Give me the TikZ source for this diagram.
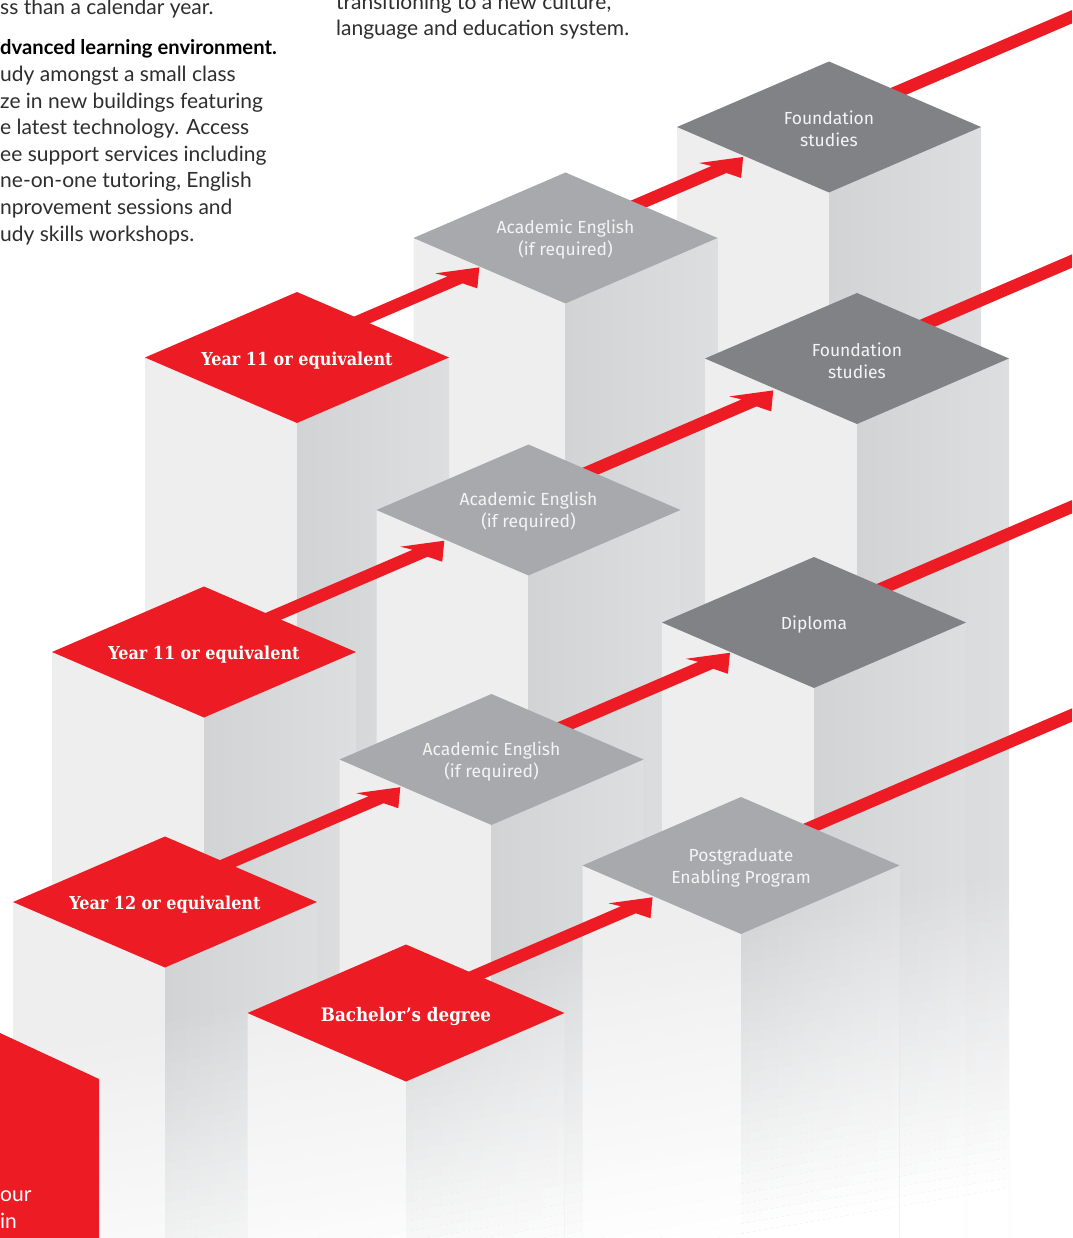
\documentclass[tikz,border=0pt]{standalone}
\usepackage{fontspec}
\setmainfont{Lato}
\newfontfamily\labfont{Fira Sans}
\newfontfamily\slabfont{DejaVu Serif Condensed}
\usetikzlibrary{calc,shapes.geometric}
\definecolor{redc}{HTML}{ED1C24}
\definecolor{dgray}{HTML}{808285}
\definecolor{lgray}{HTML}{A7A9AC}
\definecolor{leftc}{HTML}{EEEEEE}
\definecolor{rfa}{HTML}{D1D3D4}
\definecolor{rfb}{HTML}{DDDEE0}
\definecolor{labtext}{HTML}{F4F4F4}
\definecolor{bodytext}{HTML}{2E2E2E}

% pillar below a top face: left face, right face, fade to white towards the bottom
\newcommand\pillar[1]{%
  \fill[leftc] (#1.west) -- (#1.south) -- (#1.south |- 0,1240) -- (#1.west |- 0,1240) -- cycle;
  \shade[left color=rfa, right color=rfb] (#1.south) -- (#1.east) -- (#1.east |- 0,1240) -- (#1.south |- 0,1240) -- cycle;
  \begin{scope}
    \clip (#1.west) -- (#1.south) -- (#1.east) -- (#1.east |- 0,1240) -- (#1.west |- 0,1240) -- cycle;
    \foreach \i in {0,...,31}{%
      \pgfmathsetmacro\op{(\i+0.5)/32}%
      \fill[white, opacity=\op] (-10,{1043+10*\i}) -- (1100,{852+10*\i}) -- (1100,{852+10*(\i+1)}) -- (-10,{1043+10*(\i+1)}) -- cycle;}
    \fill[white] (-10,1363) -- (1100,1172) -- (1100,1400) -- (-10,1400) -- cycle;
  \end{scope}}
% top face of a block
\newcommand\topfill[2]{%
  \fill[#2] (#1.north) -- (#1.east) -- (#1.south) -- (#1.west) -- cycle;}
% isometric arrow: #1 tip coordinate, #2 shaft length (start hidden under the source face)
\newcommand\isoarrow[2]{%
  \fill[redc] ($(#1)+(-31.7,9)+({-0.9187*#2},{0.395*#2})$) -- ($(#1)+(-31.7,9)$)
    -- ($(#1)+(-44,6)$) -- (#1) -- ($(#1)+(-2,21)$) -- ($(#1)+(-16.7,16)$)
    -- ($(#1)+(-16.7,16)+({-0.9187*(#2+11)},{0.395*(#2+11)})$) -- cycle;}

\begin{document}
\begin{tikzpicture}[x=1pt,y=-1pt,
  geo/.style={diamond, aspect=2.32, inner sep=0pt, outer sep=0pt, minimum width=304pt, minimum height=131pt},
  geobig/.style={geo, minimum width=317pt, minimum height=137pt},
  redlab/.style={text=white, font=\slabfont\bfseries\fontsize{17.8}{20}\selectfont, inner sep=0pt, yshift=-3pt},
  graylab/.style={text=labtext, font=\labfont\fontsize{17.5}{22}\selectfont, align=center, inner sep=0pt, yshift=-2pt},
  exitline/.style={draw=redc, line width=12.3pt},
  body/.style={text=bodytext, font=\fontsize{21}{26.6}\selectfont, anchor=base west, inner sep=0pt},
  bodybold/.style={body, text=black, font=\bfseries\fontsize{20.2}{26.6}\selectfont}]
\useasboundingbox (0,0) rectangle (1072,1238);
\clip (0,0) rectangle (1072,1238);
\fill[white] (0,0) rectangle (1072,1238);

% geometry of the top faces
\path node[geo] (C1) at (829,127) {}
      node[geo] (B1) at (565.5,238) {}
      node[geo] (A1) at (297,357.5) {}
      node[geo] (C2) at (857,358.5) {}
      node[geo] (B2) at (528.5,510) {}
      node[geo] (A2) at (204,652) {}
      node[geo] (C3) at (814,622.5) {}
      node[geo] (B3) at (491.5,759.5) {}
      node[geo] (A3) at (165,902) {}
      node[geobig] (B4) at (741,865.5) {}
      node[geobig] (A4) at (406,1013) {};

% arrow tips on the target faces
\coordinate (tB1) at ($(B1.west)!0.433!(B1.south)+(0,1)$);
\coordinate (tC1) at ($(C1.west)!0.435!(C1.south)+(0,1.5)$);
\coordinate (tB2) at ($(B2.west)!0.446!(B2.south)+(0,1.5)$);
\coordinate (tC2) at ($(C2.west)!0.449!(C2.south)+(0,2.5)$);
\coordinate (tB3) at ($(B3.west)!0.40!(B3.south)+(0,1.5)$);
\coordinate (tC3) at ($(C3.west)!0.447!(C3.south)+(0,1)$);
\coordinate (tB4) at ($(B4.west)!0.442!(B4.south)+(0,1.5)$);
% exit lines
\coordinate (C1o) at ($(C1)+(0,-5.8)$);  \coordinate (C1far) at (1100,4.7);
\coordinate (C2o) at ($(C2)+(0,-5)$);    \coordinate (C2far) at (1100,249);
\coordinate (C3o) at ($(C3)+(0,-4.9)$);  \coordinate (C3far) at (1100,494.7);
\coordinate (B4o) at ($(B4)+(0,-8.2)$);  \coordinate (B4far) at (1100,703);

% ---- row 1
\pillar{C1}
\draw[exitline] (C1o) -- (C1far);
\topfill{C1}{dgray}
\node[graylab] (C1t) at (C1) {Foundation\\studies};
\pillar{B1}
\isoarrow{tC1}{150}
\topfill{B1}{lgray}
\node[graylab] (B1t) at (B1) {Academic English\\(if required)};
\pillar{A1}
\isoarrow{tB1}{155}
\topfill{A1}{redc}
\node[redlab] (A1t) at (A1) {Year 11 or equivalent};

% ---- row 2
\pillar{C2}
\draw[exitline] (C2o) -- (C2far);
\topfill{C2}{dgray}
\node[graylab] (C2t) at (C2) {Foundation\\studies};
\pillar{B2}
\isoarrow{tC2}{224}
\topfill{B2}{lgray}
\node[graylab] (B2t) at (B2) {Academic English\\(if required)};
\pillar{A2}
\isoarrow{tB2}{219}
\topfill{A2}{redc}
\node[redlab] (A2t) at (A2) {Year 11 or equivalent};

% ---- row 3
\pillar{C3}
\draw[exitline] (C3o) -- (C3far);
\topfill{C3}{dgray}
\node[graylab] (C3t) at (C3) {Diploma};
\pillar{B3}
\isoarrow{tC3}{217}
\topfill{B3}{lgray}
\node[graylab] (B3t) at (B3) {Academic English\\(if required)};
\pillar{A3}
\isoarrow{tB3}{213}
\topfill{A3}{redc}
\node[redlab] (A3t) at (A3) {Year 12 or equivalent};

% ---- row 4
\pillar{B4}
\draw[exitline] (B4o) -- (B4far);
\topfill{B4}{lgray}
\node[graylab] (B4t) at (B4) {Postgraduate\\Enabling Program};
\pillar{A4}
\isoarrow{tB4}{225}
\topfill{A4}{redc}
\node[redlab, font=\slabfont\bfseries\fontsize{18.6}{20}\selectfont] (A4t) at (A4) {Bachelor’s degree};

% ---- red panel bottom left
\fill[redc] (0,1033) -- (99,1079) -- (99,1240) -- (0,1240) -- cycle;
\node[body, text=white] (p1) at (0,1201) {our};
\node[body, text=white] (p2) at (0,1228) {in};

% ---- body text
\node[body] (t1) at (0,15) {ss than a calendar year.};
\node[bodybold] (t2) at (0,54.3) {dvanced learning environment.};
\node[body] (t3) at (0,81.7) {udy amongst a small class};
\node[body] (t4) at (0,108.3) {ze in new buildings featuring};
\node[body] (t5) at (0,135) {e latest technology. Access};
\node[body] (t6) at (0,161.5) {ee support services including};
\node[body] (t7) at (0,188) {ne-on-one tutoring, English};
\node[body] (t8) at (0,214.7) {nprovement sessions and};
\node[body] (t9) at (0,241.3) {udy skills workshops.};
\node[body] (m1) at (336,9.4) {transitioning to a new culture,};
\node[body] (m2) at (336,36) {language and education system.};
\end{tikzpicture}
\end{document}
